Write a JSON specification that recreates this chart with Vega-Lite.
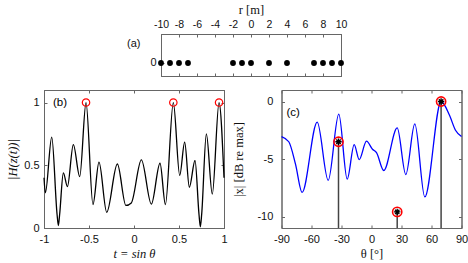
{
  "$schema": "https://vega.github.io/schema/vega-lite/v6.json",
  "padding": {"left": 5, "top": 2, "right": 0, "bottom": 0},
  "spacing": 12,
  "config": {
    "font": "Liberation Sans",
    "view": {"stroke": "#666", "strokeWidth": 1},
    "axis": {
      "grid": false,
      "domainColor": "#666",
      "tickColor": "#666",
      "tickSize": -3,
      "labelFontSize": 11,
      "labelColor": "#111",
      "labelFont": "Liberation Sans",
      "labelOverlap": false,
      "labelFlush": false,
      "titleFont": "Liberation Serif",
      "titleFontWeight": "normal",
      "titleFontSize": 12.5,
      "titleColor": "#111",
      "labelPadding": 8,
      "minExtent": 0
    }
  },
  "datasets": {
    "elements": [
      {"r": -10, "y": 0}, {"r": -9, "y": 0}, {"r": -8, "y": 0}, {"r": -7, "y": 0},
      {"r": -2, "y": 0}, {"r": -1, "y": 0}, {"r": 0, "y": 0}, {"r": 2, "y": 0},
      {"r": 4, "y": 0}, {"r": 7, "y": 0}, {"r": 8, "y": 0}, {"r": 9, "y": 0}, {"r": 10, "y": 0}
    ],
    "curveB": [
      {"t": -1.0, "v": 0.40}, {"t": -0.985, "v": 0.28}, {"t": -0.914, "v": 0.725},
      {"t": -0.855, "v": 0.11}, {"t": -0.84, "v": 0.02}, {"t": -0.826, "v": 0.11},
      {"t": -0.785, "v": 0.44}, {"t": -0.74, "v": 0.33}, {"t": -0.674, "v": 0.665},
      {"t": -0.603, "v": 0.41}, {"t": -0.533, "v": 1.0}, {"t": -0.456, "v": 0.187},
      {"t": -0.389, "v": 0.525}, {"t": -0.303, "v": 0.125}, {"t": -0.185, "v": 0.51},
      {"t": -0.09, "v": 0.18}, {"t": -0.03, "v": 0.2}, {"t": 0.082, "v": 0.543},
      {"t": 0.193, "v": 0.19}, {"t": 0.289, "v": 0.516}, {"t": 0.349, "v": 0.187},
      {"t": 0.437, "v": 1.0}, {"t": 0.508, "v": 0.42}, {"t": 0.563, "v": 0.684},
      {"t": 0.615, "v": 0.325}, {"t": 0.678, "v": 0.538}, {"t": 0.722, "v": 0.11},
      {"t": 0.737, "v": 0.01}, {"t": 0.752, "v": 0.11}, {"t": 0.804, "v": 0.75},
      {"t": 0.87, "v": 0.27}, {"t": 0.945, "v": 1.0}, {"t": 1.0, "v": 0.40}
    ],
    "peaksB": [
      {"t": -0.533, "v": 1.0}, {"t": 0.437, "v": 1.0}, {"t": 0.945, "v": 1.0}
    ],
    "curveC": [
      {"th": -90, "db": -3.05}, {"th": -82.7, "db": -3.5}, {"th": -76, "db": -5.45},
      {"th": -69.4, "db": -7.9}, {"th": -54.3, "db": -1.8}, {"th": -43.3, "db": -6.85},
      {"th": -32.7, "db": -1.1}, {"th": -24.3, "db": -6.75}, {"th": -17.3, "db": -3.75},
      {"th": -12.3, "db": -5.05}, {"th": -5, "db": -3.45}, {"th": 1, "db": -4.15},
      {"th": 5, "db": -4.45}, {"th": 12.3, "db": -6.0}, {"th": 25.7, "db": -2.3},
      {"th": 34.3, "db": -6.35}, {"th": 43.3, "db": -1.95}, {"th": 53.3, "db": -8.3},
      {"th": 69.6, "db": 0}, {"th": 78, "db": -1.2}, {"th": 84, "db": -2.5},
      {"th": 90, "db": -3.05}
    ],
    "peaksC": [
      {"th": -33, "db": -3.5}, {"th": 25.7, "db": -9.6}, {"th": 69.6, "db": 0}
    ],
    "labB": [{"t": -0.9, "v": 1.0, "txt": "(b)"}],
    "labC": [{"th": -85, "db": -1.0, "txt": "(c)"}]
  },
  "vconcat": [
    {
      "spacing": 0,
      "hconcat": [
        {
          "width": 82, "height": 42,
          "view": {"stroke": null},
          "data": {"values": [{}]},
          "mark": {"type": "point", "opacity": 0},
          "encoding": {}
        },
        {
          "width": 180, "height": 42,
          "data": {"name": "elements"},
          "layer": [
            {
              "mark": {"type": "point", "filled": true, "color": "black", "size": 34, "opacity": 1, "clip": false},
              "encoding": {
                "x": {"field": "r", "type": "quantitative",
                      "scale": {"domain": [-10, 10], "nice": false},
                      "axis": {"orient": "top", "values": [-10, -8, -6, -4, -2, 0, 2, 4, 6, 8, 10],
                               "labelExpr": "'' + datum.value", "labelFontSize": 10.5, "title": "r [m]", "titlePadding": 3}},
                "y": {"field": "y", "type": "quantitative",
                      "scale": {"domain": [-0.45, 1], "nice": false, "zero": false},
                      "axis": {"orient": "left", "values": [0], "labelExpr": "'' + datum.value",
                               "title": "(a)", "titleAngle": 0, "titleFont": "Liberation Sans", "titleFontSize": 11,
                               "titleAlign": "right", "titleBaseline": "middle", "titleX": -21, "titleY": 9}}
              }
            },
            {
              "mark": {"type": "point", "opacity": 0},
              "encoding": {
                "x": {"field": "r", "type": "quantitative",
                      "axis": {"orient": "bottom", "values": [-10, -8, -6, -4, -2, 0, 2, 4, 6, 8, 10], "labels": false, "title": null}},
                "y": {"field": "y", "type": "quantitative",
                      "axis": {"orient": "right", "values": [0], "labels": false, "title": null}}
              }
            }
          ],
          "resolve": {"axis": {"x": "independent", "y": "independent"}}
        }
      ]
    },
    {
      "spacing": 3.5,
      "hconcat": [
        {
          "width": 180, "height": 138,
          "layer": [
            {
              "data": {"name": "curveB"},
              "mark": {"type": "line", "color": "black", "strokeWidth": 1.3, "interpolate": "monotone"},
              "encoding": {
                "x": {"field": "t", "type": "quantitative",
                      "scale": {"domain": [-1, 1], "nice": false},
                      "axis": {"orient": "bottom", "values": [-1, -0.5, 0, 0.5, 1], "labelExpr": "'' + datum.value",
                               "title": "t = sin θ", "titleFontStyle": "italic", "titlePadding": 3}},
                "y": {"field": "v", "type": "quantitative",
                      "scale": {"domain": [0, 1.1], "nice": false},
                      "axis": {"orient": "left", "values": [0, 0.5, 1], "labelExpr": "'' + datum.value",
                               "title": "|H(z(t))|", "titleFontStyle": "italic",
                               "titleX": -32, "titleY": 69, "titleAngle": -90, "titleAlign": "center", "titleBaseline": "middle"}}
              }
            },
            {
              "data": {"name": "peaksB"},
              "mark": {"type": "point", "shape": "circle", "filled": false, "color": "red", "size": 55, "strokeWidth": 1.2, "opacity": 1, "clip": false},
              "encoding": {
                "x": {"field": "t", "type": "quantitative",
                      "axis": {"orient": "top", "values": [-1, -0.5, 0, 0.5, 1], "labels": false, "title": null}},
                "y": {"field": "v", "type": "quantitative",
                      "axis": {"orient": "right", "values": [0, 0.5, 1], "labels": false, "title": null}}
              }
            },
            {
              "data": {"name": "labB"},
              "mark": {"type": "text", "align": "left", "baseline": "middle", "fontSize": 11.5, "font": "Liberation Sans"},
              "encoding": {
                "x": {"field": "t", "type": "quantitative", "axis": null},
                "y": {"field": "v", "type": "quantitative", "axis": null},
                "text": {"field": "txt"}
              }
            }
          ],
          "resolve": {"axis": {"x": "independent", "y": "independent"}}
        },
        {
          "width": 180, "height": 138,
          "layer": [
            {
              "data": {"name": "peaksC"},
              "mark": {"type": "rule", "color": "#444", "strokeWidth": 1.5},
              "encoding": {
                "x": {"field": "th", "type": "quantitative",
                      "scale": {"domain": [-90, 90], "nice": false},
                      "axis": {"orient": "bottom", "values": [-90, -60, -30, 0, 30, 60, 90], "labelExpr": "'' + datum.value",
                               "title": "θ [°]", "titlePadding": 3}},
                "y": {"field": "db", "type": "quantitative",
                      "scale": {"domain": [-11, 1], "nice": false},
                      "axis": {"orient": "left", "values": [-10, -5, 0], "labelExpr": "'' + datum.value",
                               "title": "|x| [dB re max]", "labelPadding": 11.7,
                               "titleX": -42.7, "titleY": 69, "titleAngle": -90, "titleAlign": "center", "titleBaseline": "middle"}},
                "y2": {"datum": -11}
              }
            },
            {
              "data": {"name": "curveC"},
              "mark": {"type": "line", "color": "#0000ff", "strokeWidth": 1.3, "interpolate": "monotone"},
              "encoding": {
                "x": {"field": "th", "type": "quantitative",
                      "axis": {"orient": "top", "values": [-90, -60, -30, 0, 30, 60, 90], "labels": false, "title": null}},
                "y": {"field": "db", "type": "quantitative",
                      "axis": {"orient": "right", "values": [-10, -5, 0], "labels": false, "title": null}}
              }
            },
            {
              "data": {"name": "peaksC"},
              "mark": {"type": "point", "shape": "circle", "filled": false, "color": "red", "size": 85, "strokeWidth": 1.6, "opacity": 1, "clip": false},
              "encoding": {
                "x": {"field": "th", "type": "quantitative", "axis": null},
                "y": {"field": "db", "type": "quantitative", "axis": null}
              }
            },
            {
              "data": {"name": "peaksC"},
              "mark": {"type": "point", "shape": "M-1,0L1,0M0,-1L0,1M-0.7,-0.7L0.7,0.7M-0.7,0.7L0.7,-0.7", "filled": false, "color": "black", "size": 40, "strokeWidth": 1.3, "opacity": 1, "clip": false},
              "encoding": {
                "x": {"field": "th", "type": "quantitative", "axis": null},
                "y": {"field": "db", "type": "quantitative", "axis": null}
              }
            },
            {
              "data": {"name": "labC"},
              "mark": {"type": "text", "align": "left", "baseline": "middle", "fontSize": 11.5, "font": "Liberation Sans"},
              "encoding": {
                "x": {"field": "th", "type": "quantitative", "axis": null},
                "y": {"field": "db", "type": "quantitative", "axis": null},
                "text": {"field": "txt"}
              }
            }
          ],
          "resolve": {"axis": {"x": "independent", "y": "independent"}}
        }
      ]
    }
  ]
}
